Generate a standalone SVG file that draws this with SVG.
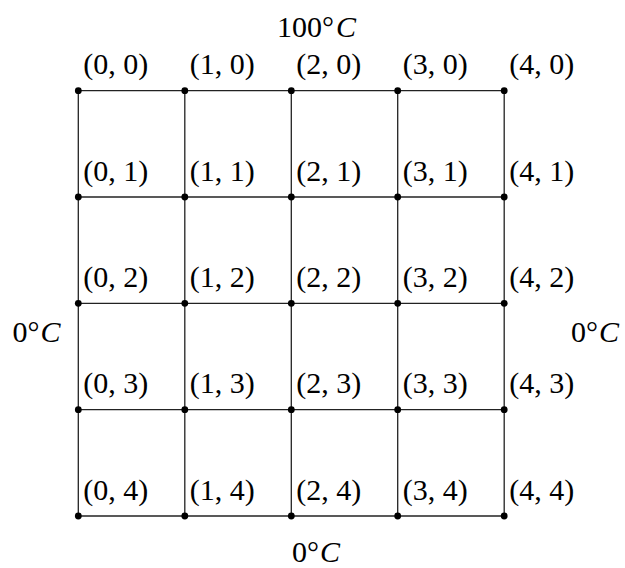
<svg xmlns="http://www.w3.org/2000/svg" width="625" height="568" viewBox="0 0 625 568">
<style>
.e{stroke:#222;stroke-width:1.3;fill:none}
.d{fill:#000}
.t{font-family:"Liberation Serif","DejaVu Serif",serif;font-size:30px;fill:#000}
.i{font-style:italic}
</style>
<rect width="625" height="568" fill="#fff"/>
<g id="connectors">
<line class="e" x1="78.3" y1="90.7" x2="504.2" y2="90.7"/>
<line class="e" x1="78.3" y1="197" x2="504.2" y2="197"/>
<line class="e" x1="78.3" y1="303.3" x2="504.2" y2="303.3"/>
<line class="e" x1="78.3" y1="409.7" x2="504.2" y2="409.7"/>
<line class="e" x1="78.3" y1="516" x2="504.2" y2="516"/>
<line class="e" x1="78.3" y1="90.7" x2="78.3" y2="516"/>
<line class="e" x1="184.8" y1="90.7" x2="184.8" y2="516"/>
<line class="e" x1="291.3" y1="90.7" x2="291.3" y2="516"/>
<line class="e" x1="397.7" y1="90.7" x2="397.7" y2="516"/>
<line class="e" x1="504.2" y1="90.7" x2="504.2" y2="516"/>
</g>
<g id="n00"><circle class="d" cx="78.3" cy="90.7" r="3.4"/><text class="t" x="83.3" y="74.2">(0, 0)</text></g>
<g id="n10"><circle class="d" cx="184.8" cy="90.7" r="3.4"/><text class="t" x="189.8" y="74.2">(1, 0)</text></g>
<g id="n20"><circle class="d" cx="291.3" cy="90.7" r="3.4"/><text class="t" x="296.3" y="74.2">(2, 0)</text></g>
<g id="n30"><circle class="d" cx="397.7" cy="90.7" r="3.4"/><text class="t" x="402.7" y="74.2">(3, 0)</text></g>
<g id="n40"><circle class="d" cx="504.2" cy="90.7" r="3.4"/><text class="t" x="509.2" y="74.2">(4, 0)</text></g>
<g id="n01"><circle class="d" cx="78.3" cy="197" r="3.4"/><text class="t" x="83.3" y="180.5">(0, 1)</text></g>
<g id="n11"><circle class="d" cx="184.8" cy="197" r="3.4"/><text class="t" x="189.8" y="180.5">(1, 1)</text></g>
<g id="n21"><circle class="d" cx="291.3" cy="197" r="3.4"/><text class="t" x="296.3" y="180.5">(2, 1)</text></g>
<g id="n31"><circle class="d" cx="397.7" cy="197" r="3.4"/><text class="t" x="402.7" y="180.5">(3, 1)</text></g>
<g id="n41"><circle class="d" cx="504.2" cy="197" r="3.4"/><text class="t" x="509.2" y="180.5">(4, 1)</text></g>
<g id="n02"><circle class="d" cx="78.3" cy="303.3" r="3.4"/><text class="t" x="83.3" y="286.8">(0, 2)</text></g>
<g id="n12"><circle class="d" cx="184.8" cy="303.3" r="3.4"/><text class="t" x="189.8" y="286.8">(1, 2)</text></g>
<g id="n22"><circle class="d" cx="291.3" cy="303.3" r="3.4"/><text class="t" x="296.3" y="286.8">(2, 2)</text></g>
<g id="n32"><circle class="d" cx="397.7" cy="303.3" r="3.4"/><text class="t" x="402.7" y="286.8">(3, 2)</text></g>
<g id="n42"><circle class="d" cx="504.2" cy="303.3" r="3.4"/><text class="t" x="509.2" y="286.8">(4, 2)</text></g>
<g id="n03"><circle class="d" cx="78.3" cy="409.7" r="3.4"/><text class="t" x="83.3" y="393.2">(0, 3)</text></g>
<g id="n13"><circle class="d" cx="184.8" cy="409.7" r="3.4"/><text class="t" x="189.8" y="393.2">(1, 3)</text></g>
<g id="n23"><circle class="d" cx="291.3" cy="409.7" r="3.4"/><text class="t" x="296.3" y="393.2">(2, 3)</text></g>
<g id="n33"><circle class="d" cx="397.7" cy="409.7" r="3.4"/><text class="t" x="402.7" y="393.2">(3, 3)</text></g>
<g id="n43"><circle class="d" cx="504.2" cy="409.7" r="3.4"/><text class="t" x="509.2" y="393.2">(4, 3)</text></g>
<g id="n04"><circle class="d" cx="78.3" cy="516" r="3.4"/><text class="t" x="83.3" y="499.5">(0, 4)</text></g>
<g id="n14"><circle class="d" cx="184.8" cy="516" r="3.4"/><text class="t" x="189.8" y="499.5">(1, 4)</text></g>
<g id="n24"><circle class="d" cx="291.3" cy="516" r="3.4"/><text class="t" x="296.3" y="499.5">(2, 4)</text></g>
<g id="n34"><circle class="d" cx="397.7" cy="516" r="3.4"/><text class="t" x="402.7" y="499.5">(3, 4)</text></g>
<g id="n44"><circle class="d" cx="504.2" cy="516" r="3.4"/><text class="t" x="509.2" y="499.5">(4, 4)</text></g>
<g id="labels">
<text class="t" x="277" y="37">100°<tspan class="i" dx="2">C</tspan></text>
<text class="t" x="12.5" y="341.5">0°<tspan class="i" dx="1">C</tspan></text>
<text class="t" x="571" y="341.5">0°<tspan class="i" dx="1">C</tspan></text>
<text class="t" x="292" y="562">0°<tspan class="i" dx="1">C</tspan></text>
</g>
</svg>
